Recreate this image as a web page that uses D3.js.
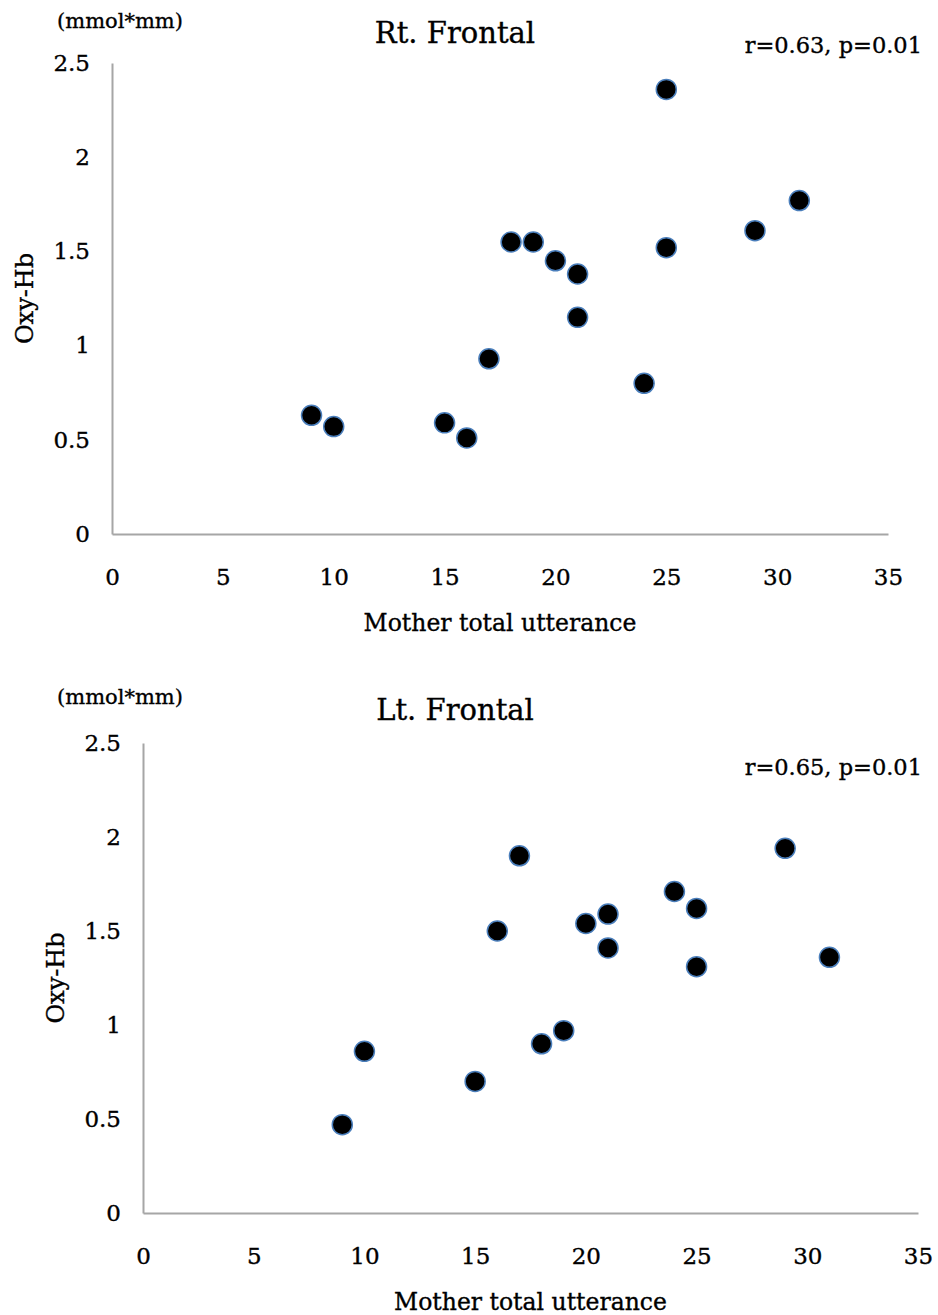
<!DOCTYPE html>
<html>
<head>
<meta charset="utf-8">
<script src="https://cdn.jsdelivr.net/npm/d3@7"></script>
<style>
  body { margin: 0; background: #fff; }
  svg text { font-family: "DejaVu Serif", "Liberation Serif", serif; fill: #000; stroke: #000; stroke-width: 0.35px; }
</style>
</head>
<body>
<div id="chart"></div>
<script>
/* DATA */
const xTicks = [0, 5, 10, 15, 20, 25, 30, 35];
const yTicks = [0, 0.5, 1, 1.5, 2, 2.5];

// Rt. Frontal
const rtUtterance = [9, 10, 15, 16, 17, 18, 19, 20, 21, 21, 24, 25, 25, 29, 31];
const rtOxyHb = [0.63, 0.57, 0.59, 0.51, 0.93, 1.55, 1.55, 1.45, 1.38, 1.15, 0.80, 2.36, 1.52, 1.61, 1.77];

// Lt. Frontal
const ltUtterance = [9, 10, 15, 16, 17, 18, 19, 20, 21, 21, 24, 25, 25, 29, 31];
const ltOxyHb = [0.47, 0.86, 0.70, 1.50, 1.90, 0.90, 0.97, 1.54, 1.59, 1.41, 1.71, 1.62, 1.31, 1.94, 1.36];

const titles = ["Rt. Frontal", "Lt. Frontal"];
const stats = ["r=0.63, p=0.01", "r=0.65, p=0.01"];

/* LAYOUT */
const width = 938, height = 1315;

const panels = [
  { title: titles[0], stat: stats[0], xs: rtUtterance, ys: rtOxyHb,
    left: 112, right: 888, top: 63, bottom: 534, statY: 45, titleY: 43, unitY: 28, unitX: 120 },
  { title: titles[1], stat: stats[1], xs: ltUtterance, ys: ltOxyHb,
    left: 143, right: 918, top: 743, bottom: 1213, statY: 767, titleY: 720, unitY: 704, unitX: 120 }
];

const svg = d3.select("#chart")
  .append("svg")
  .attr("width", width)
  .attr("height", height);

panels.forEach(p => {
  const x = d3.scaleLinear().domain([0, 35]).range([p.left, p.right]);
  const y = d3.scaleLinear().domain([0, 2.5]).range([p.bottom, p.top]);

  const g = svg.append("g");

  // axes (no tick marks, grey lines)
  const xAxis = d3.axisBottom(x).tickValues(xTicks).tickSize(0).tickPadding(49).tickFormat(d3.format("d"));
  const yAxis = d3.axisLeft(y).tickValues(yTicks).tickSize(0).tickPadding(22).tickFormat(d => d);

  g.append("g")
    .attr("transform", `translate(0,${p.bottom})`)
    .call(xAxis)
    .call(a => a.select(".domain").attr("stroke", "#a6a6a6").attr("stroke-width", 2))
    .selectAll("text")
    .style("font-size", "23px")
    .attr("dy", "0.1em");

  g.append("g")
    .attr("transform", `translate(${p.left},0)`)
    .call(yAxis)
    .call(a => a.select(".domain").attr("stroke", "#a6a6a6").attr("stroke-width", 2))
    .selectAll("text")
    .style("font-size", "23px");

  // title
  g.append("text")
    .text(p.title)
    .attr("x", 455)
    .attr("y", p.titleY)
    .attr("text-anchor", "middle")
    .style("font-size", "29px");

  // correlation note
  g.append("text")
    .text(p.stat)
    .attr("x", 922)
    .attr("y", p.statY)
    .attr("dy", "0.35em")
    .attr("text-anchor", "end")
    .style("font-size", "22.5px");

  // unit
  g.append("text")
    .text("(mmol*mm)")
    .attr("x", p.unitX)
    .attr("y", p.unitY)
    .attr("text-anchor", "middle")
    .style("font-size", "21px");

  // axis titles
  g.append("text")
    .text("Mother total utterance")
    .attr("x", (p.left + p.right) / 2)
    .attr("y", p.bottom + 89)
    .attr("dy", "0.35em")
    .attr("text-anchor", "middle")
    .style("font-size", "23.5px");

  g.append("text")
    .text("Oxy-Hb")
    .attr("transform", `translate(${p.left - 87},${(p.top + p.bottom) / 2}) rotate(-90)`)
    .attr("dy", "0.35em")
    .attr("text-anchor", "middle")
    .style("font-size", "24px");

  // points
  const pts = p.xs.map((v, i) => ({ x: v, y: p.ys[i] }));
  g.selectAll("circle.pt")
    .data(pts)
    .join("circle")
    .attr("class", "pt")
    .attr("cx", d => x(d.x))
    .attr("cy", d => y(d.y))
    .attr("r", 10)
    .attr("fill", "#000")
    .attr("stroke", "#4a7ebb")
    .attr("stroke-width", 1.5);
});
</script>
</body>
</html>
